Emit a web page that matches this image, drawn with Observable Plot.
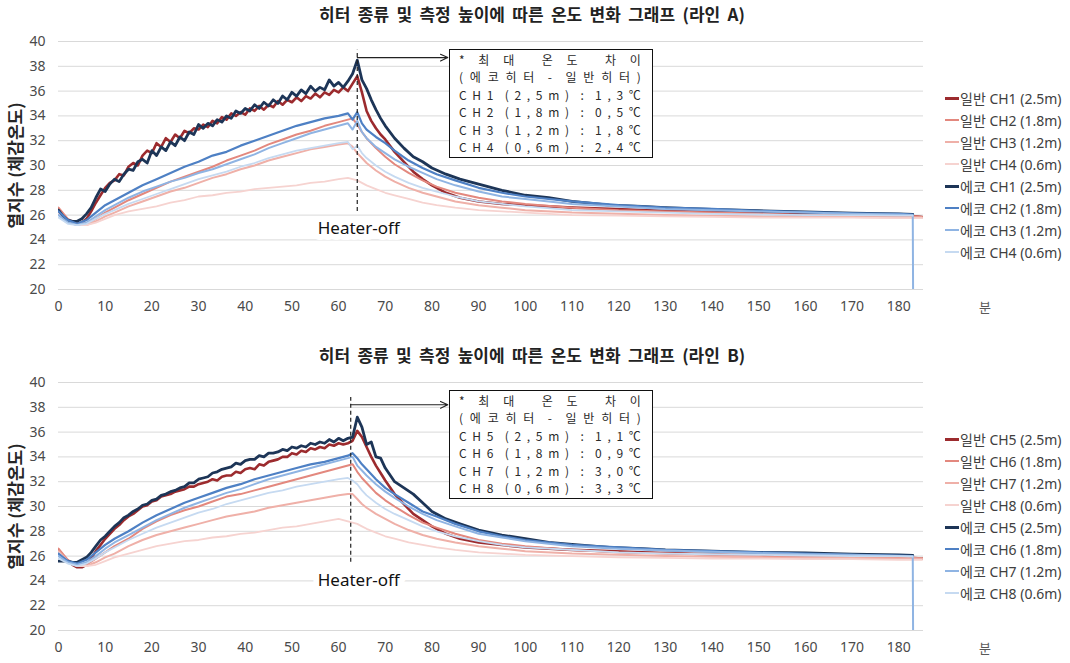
<!DOCTYPE html>
<html><head><meta charset="utf-8">
<script src="https://cdn.jsdelivr.net/npm/d3@7"></script>
<script src="https://cdn.jsdelivr.net/npm/@observablehq/plot@0.6"></script>
<style>
body{margin:0;background:#fff;font-family:"Noto Sans","Noto Sans CJK KR",sans-serif;}
#root{position:relative;width:1070px;height:663px;overflow:hidden;background:#fff;}
.panel{position:absolute;left:0;width:1070px;height:341px;}
.title{position:absolute;top:0;left:0;width:1064px;text-align:center;font-family:"Noto Sans CJK KR",sans-serif;font-weight:bold;font-size:17px;line-height:28px;color:#222;word-spacing:3.5px;}
.plotwrap{position:absolute;top:28px;left:0;}
.legend{position:absolute;left:945px;top:87px;font-size:14px;color:#404040;}
.legend .item{height:22px;display:flex;align-items:center;white-space:nowrap;}
.legend .sw{width:14px;margin-right:1px;}
.box{position:absolute;left:449px;top:49px;width:204px;height:109px;border:1.5px solid #111;background:#fff;box-sizing:border-box;padding:1px 11px 0 9px;font-family:"Noto Sans CJK KR",sans-serif;font-size:12px;color:#2a2a2a;}
.box .ln{display:flex;justify-content:space-between;height:17.4px;}
.box .ln span{display:inline-block;height:17.4px;line-height:17.4px;transform-origin:center;}
.unit{position:absolute;left:979px;top:298px;font-size:13px;line-height:18px;color:#595959;font-family:"Noto Sans CJK KR",sans-serif;}
</style></head>
<body><div id="root"></div>
<script>
// ---------- axes ----------
const xTicks = [0,10,20,30,40,50,60,70,80,90,100,110,120,130,140,150,160,170,180];
const yTicks = [20,22,24,26,28,30,32,34,36,38,40];
const xUnit = "분";
const yLabel = "열지수 (체감온도)";
const titles = ["히터 종류 및 측정 높이에 따른 온도 변화 그래프 (라인 A)", "히터 종류 및 측정 높이에 따른 온도 변화 그래프 (라인 B)"];

// ---------- time (minutes) ----------
const tFine = [0,1,2,3,4,5,6,7,8,9,10,11,12,13,14,15,16,17,18,19,20,21,22,23,24,25,26,27,28,29,30,31,32,33,34,35,36,37,38,39,40,41,42,43,44,45,46,47,48,49,50,51,52,53,54,55,56,57,58,59,60,61,62,63,64,65,66,67,68,69,70,
  72,74,76,78,80,83,86,90,95,100,105,110,118,125,130,140,150,160,170,180,183,183.3,185];
const tCoarse = [0,2,4,6,8,10,12,15,18,21,24,27,30,33,36,39,42,45,48,51,54,57,60,62,63,64,65,66,68,70,72,75,78,81,85,90,95,100,110,120,130,140,150,160,170,180,183,183.3,185];

// ---------- Line A ----------
const a_il1 = [26.5,25.9,25.5,25.3,25.3,25.4,25.7,26.3,27.0,27.6, 28.2,28.6,28.8,29.3,29.2,29.9,30.2,30.0,30.8,31.2, 31.0,31.8,31.5,32.2,31.9,32.5,32.2,32.8,32.6,33.0, 32.9,33.3,33.1,33.6,33.4,33.9,33.7,34.2,34.0,34.3, 34.1,34.6,34.4,34.8,34.5,34.9,34.7,35.2,34.9,35.3, 35.1,35.5,35.2,35.6,35.4,35.8,35.5,35.9,35.7,36.1, 35.9,36.3,36.0,36.6,37.2,35.9,34.4,33.6,33.0,32.5, 32.1,
  31.1,30.3,29.5,28.9,28.4,27.8,27.4,27.1,26.9,26.8,26.7,26.6,26.5,26.4,26.35,26.25,26.15,26.05,26.0,25.9,25.9,25.9,25.85];
const a_il2 = [26.6,25.7,25.3,25.3,25.7,26.2,26.6,27.2,27.7,28.2,28.7,29.1,29.5,29.9,30.4,30.8,31.2,31.7,32.1,32.5,32.8,33.2,33.5,33.7,33.8,33.3,32.7,32.2,31.4,30.7,30.1,29.4,28.8,28.3,27.8,27.4,27.1,26.9,26.6,26.4,26.3,26.2,26.1,26.0,25.95,25.9,25.9,25.9,25.85];
const a_il3 = [26.4,25.5,25.2,25.2,25.5,25.9,26.2,26.7,27.1,27.5,27.9,28.2,28.6,29.0,29.3,29.7,30.0,30.4,30.7,31.0,31.3,31.5,31.7,31.8,31.5,31.0,30.6,30.2,29.6,29.1,28.7,28.2,27.8,27.5,27.1,26.8,26.6,26.4,26.2,26.1,26.0,25.95,25.9,25.85,25.85,25.8,25.8,25.8,25.8];
const a_il4 = [26.2,25.4,25.2,25.2,25.4,25.7,26.0,26.3,26.5,26.7,27.0,27.2,27.5,27.6,27.8,27.9,28.1,28.2,28.3,28.4,28.6,28.7,28.9,29.0,28.9,28.8,28.6,28.4,28.1,27.8,27.6,27.3,27.0,26.8,26.6,26.4,26.3,26.2,26.0,25.95,25.9,25.85,25.8,25.8,25.8,25.75,25.75,25.75,25.75];
const a_eco1 = [26.4,25.9,25.6,25.5,25.5,25.7,26.1,26.6,27.4,28.1, 27.9,28.5,28.9,28.7,29.3,29.7,29.6,30.3,30.5,30.2, 31.2,30.8,31.5,31.2,31.9,31.6,32.3,32.0,32.7,32.5, 33.3,33.0,33.4,33.2,33.7,33.5,34.0,33.8,34.4,34.2, 34.6,34.4,34.9,34.6,35.1,34.8,35.3,35.0,35.6,35.3, 35.9,35.6,36.1,35.8,36.4,36.0,36.3,36.1,36.9,36.4, 36.7,36.3,36.8,37.4,38.5,36.9,36.2,35.3,34.5,33.8, 33.2,
  32.2,31.4,30.7,30.3,29.8,29.3,28.9,28.5,28.0,27.6,27.4,27.1,26.8,26.7,26.6,26.45,26.35,26.25,26.15,26.1,26.05,null,null];
const a_eco2 = [26.3,25.6,25.3,25.6,26.2,26.8,27.2,27.8,28.4,28.9,29.4,29.9,30.3,30.8,31.1,31.6,32.0,32.4,32.8,33.2,33.5,33.8,34.0,34.2,33.7,34.3,33.4,32.9,32.3,31.8,31.2,30.4,29.8,29.3,28.8,28.2,27.8,27.5,27.1,26.8,26.6,26.5,26.35,26.25,26.15,26.1,26.05,null,null];
const a_eco3 = [26.0,25.4,25.2,25.4,25.9,26.4,26.8,27.4,27.9,28.3,28.7,29.0,29.4,29.7,30.1,30.5,30.9,31.4,31.8,32.2,32.6,32.9,33.2,33.4,32.9,33.6,32.7,32.2,31.5,31.0,30.5,29.9,29.4,28.9,28.4,27.9,27.5,27.3,26.9,26.7,26.5,26.4,26.3,26.2,26.1,26.05,26.0,0,null];
const a_eco4 = [25.8,25.3,25.2,25.3,25.7,26.1,26.4,26.9,27.3,27.7,28.1,28.5,28.9,29.2,29.5,29.9,30.2,30.6,30.9,31.2,31.4,31.6,31.8,31.9,31.3,31.6,31.0,30.6,30.0,29.5,29.1,28.6,28.2,27.9,27.5,27.1,26.9,26.7,26.4,26.3,26.2,26.1,26.05,26.0,26.0,25.95,25.95,null,null];

// ---------- Line B ----------
const b_il5 = [26.5,26.0,25.6,25.3,25.1,25.1,25.3,25.8,26.4,26.9, 27.4,27.8,28.2,28.5,28.9,29.2,29.4,29.7,30.0,30.1, 30.4,30.5,30.8,30.9,31.0,31.2,31.3,31.4,31.6,31.6, 31.8,31.9,32.0,32.2,32.1,32.4,32.5,32.5,32.8,32.7, 33.0,33.1,33.0,33.4,33.3,33.6,33.7,33.8,34.0,34.0, 34.3,34.2,34.5,34.4,34.7,34.6,34.8,34.7,35.0,34.9, 35.1,35.0,35.1,35.3,36.1,35.6,34.8,34.0,33.3,32.7, 32.1,
  31.0,30.2,29.4,28.9,28.4,27.8,27.4,27.1,26.9,26.7,26.6,26.5,26.4,26.3,26.25,26.15,26.05,26.0,25.95,25.9,25.85,25.85,25.8];
const b_il6 = [26.6,25.7,25.2,25.3,25.8,26.3,26.8,27.4,28.2,28.8,29.3,29.7,30.0,30.4,30.8,31.0,31.3,31.6,31.9,32.2,32.5,32.8,33.1,33.3,33.4,32.8,32.3,31.9,31.1,30.5,30.0,29.3,28.7,28.3,27.8,27.3,27.0,26.8,26.5,26.3,26.2,26.1,26.0,25.95,25.9,25.85,25.85,25.85,25.8];
const b_il7 = [26.4,25.6,25.2,25.2,25.5,25.9,26.2,26.8,27.3,27.7,28.0,28.3,28.6,28.9,29.2,29.4,29.6,29.9,30.1,30.3,30.5,30.7,30.9,31.0,31.0,30.6,30.2,29.9,29.4,29.0,28.6,28.1,27.7,27.4,27.1,26.8,26.6,26.4,26.2,26.1,26.0,25.95,25.9,25.85,25.85,25.8,25.8,25.8,25.8];
const b_il8 = [26.3,25.5,25.2,25.2,25.3,25.6,25.9,26.2,26.5,26.8,27.0,27.2,27.3,27.5,27.6,27.8,27.9,28.1,28.3,28.4,28.6,28.8,29.0,28.8,28.7,28.6,28.4,28.2,27.9,27.6,27.4,27.1,26.9,26.7,26.5,26.3,26.2,26.1,26.0,25.9,25.85,25.8,25.8,25.75,25.75,25.7,25.7,25.7,25.7];
const b_eco5 = [25.6,25.6,25.6,25.5,25.5,25.7,25.9,26.3,26.8,27.3, 27.6,28.0,28.4,28.7,29.1,29.3,29.6,29.8,30.1,30.2, 30.5,30.6,30.9,31.0,31.2,31.3,31.5,31.6,31.9,31.9, 32.2,32.3,32.4,32.7,32.8,33.0,33.1,33.2,33.5,33.4, 33.7,33.8,33.8,34.1,34.0,34.3,34.3,34.4,34.6,34.5, 34.8,34.7,34.9,34.8,35.1,35.0,35.2,35.1,35.4,35.2, 35.5,35.3,35.5,35.6,37.2,36.4,35.0,35.2,34.0,33.9, 33.1,
  32.0,31.5,31.0,30.3,29.6,29.0,28.6,28.1,27.7,27.4,27.1,26.95,26.7,26.6,26.5,26.4,26.3,26.25,26.15,26.1,26.05,null,null];
const b_eco6 = [26.2,25.6,25.4,25.7,26.3,26.9,27.4,28.0,28.7,29.3,29.8,30.3,30.7,31.1,31.5,31.8,32.2,32.5,32.8,33.1,33.4,33.6,33.9,34.1,34.3,33.9,33.4,33.0,32.2,31.5,31.0,30.3,29.6,29.2,28.6,28.0,27.6,27.3,26.9,26.7,26.5,26.4,26.3,26.2,26.1,26.05,26.0,null,null];
const b_eco7 = [26.0,25.5,25.3,25.5,26.0,26.6,27.1,27.7,28.3,28.9,29.4,29.9,30.3,30.7,31.1,31.4,31.8,32.2,32.5,32.8,33.1,33.4,33.7,33.9,34.0,33.3,32.9,32.5,31.8,31.2,30.7,30.0,29.4,28.9,28.4,27.8,27.5,27.2,26.8,26.6,26.45,26.35,26.25,26.15,26.1,26.0,26.0,0,null];
const b_eco8 = [25.8,25.4,25.2,25.4,25.8,26.3,26.7,27.3,27.8,28.3,28.7,29.1,29.5,29.8,30.2,30.5,30.8,31.1,31.3,31.6,31.8,32.0,32.2,32.3,32.1,31.8,31.3,30.9,30.3,29.8,29.4,28.9,28.4,28.0,27.6,27.2,26.9,26.7,26.5,26.3,26.2,26.15,26.1,26.05,26.0,26.0,25.95,null,null];

// ---------- series names / colours ----------
const namesA = ["일반 CH1 (2.5m)","일반 CH2 (1.8m)","일반 CH3 (1.2m)","일반 CH4 (0.6m)","에코 CH1 (2.5m)","에코 CH2 (1.8m)","에코 CH3 (1.2m)","에코 CH4 (0.6m)"];
const namesB = ["일반 CH5 (2.5m)","일반 CH6 (1.8m)","일반 CH7 (1.2m)","일반 CH8 (0.6m)","에코 CH5 (2.5m)","에코 CH6 (1.8m)","에코 CH7 (1.2m)","에코 CH8 (0.6m)"];
const seriesColors = ["#9c2b2e","#e3887e","#efb0a8","#f6d3d0","#1d3557","#4e80c4","#8fb4e3","#c6daf1"];
const seriesWidths = [2.6,2,2,1.8,2.8,2.2,2,1.8];

// ---------- annotations ----------
const heaterOff = [64, 62.6];
const dashTop = [39.3, 38.8], dashBottom = [26.3, 25.5];
const arrowY = [38.7, 38.2], arrowEnd = 83.4;
const offLabelX = [64.3, 64.3], offLabelY = [24.9, 24.0];
const offLabel = "Heater-off";
const boxLinesA = ["*최대 온도 차이","(에코히터 - 일반히터)","CH1 (2,5m) : 1,3℃","CH2 (1,8m) : 0,5℃","CH3 (1,2m) : 1,8℃","CH4 (0,6m) : 2,4℃"];
const boxLinesB = ["*최대 온도 차이","(에코히터 - 일반히터)","CH5 (2,5m) : 1,1℃","CH6 (1,8m) : 0,9℃","CH7 (1,2m) : 3,0℃","CH8 (0,6m) : 3,3℃"];

const panels = [
  {title: titles[0], names: namesA, values: [a_il1,a_il2,a_il3,a_il4,a_eco1,a_eco2,a_eco3,a_eco4], box: boxLinesA, top: 0, i: 0},
  {title: titles[1], names: namesB, values: [b_il5,b_il6,b_il7,b_il8,b_eco5,b_eco6,b_eco7,b_eco8], box: boxLinesB, top: 341, i: 1}
];
const fineIdx = new Set([0,4]);

const root = document.getElementById("root");
const font = "'Noto Sans','Noto Sans CJK KR',sans-serif";

for (const p of panels) {
  const panel = document.createElement("div");
  panel.className = "panel"; panel.style.top = p.top + "px";
  root.appendChild(panel);

  const title = document.createElement("div");
  title.className = "title"; title.textContent = p.title;
  panel.appendChild(title);

  const lines = p.values.map((vals, k) => {
    const ts = fineIdx.has(k) ? tFine : tCoarse;
    const rows = ts.map((t, j) => ({t, v: vals[j]}));
    return Plot.line(rows, {x: "t", y: "v", stroke: seriesColors[k], strokeWidth: seriesWidths[k], clip: true, defined: d => d.v != null});
  });

  const svg = Plot.plot({
    width: 1070, height: 313,
    marginLeft: 58, marginRight: 147, marginTop: 13, marginBottom: 52,
    x: {domain: [0, 185.3]},
    y: {domain: [20, 40]},
    style: {fontFamily: font, fontSize: "14px", color: "#4a4a4a", background: "transparent"},
    marks: [
      Plot.gridY(yTicks, {stroke: "#d9d9d9", strokeOpacity: 1}),
      Plot.axisX(xTicks, {tickSize: 0, tickPadding: 12, label: null, fontSize: 14}),
      Plot.axisY(yTicks, {tickSize: 0, tickPadding: 13, label: null, fontSize: 14}),
      Plot.text([yLabel], {text: d => d, frameAnchor: "left", dx: -42, rotate: -90, textAnchor: "middle", fontWeight: "bold", fontSize: 17, fill: "#262626", fontFamily: "'Noto Sans CJK KR',sans-serif"}),
      ...lines,
      Plot.ruleX([{x: heaterOff[p.i], y1: dashBottom[p.i], y2: dashTop[p.i]}], {x: "x", y1: "y1", y2: "y2", stroke: "#222", strokeWidth: 1.2, strokeDasharray: "4,3"}),
      Plot.arrow([{x1: heaterOff[p.i], y: arrowY[p.i], x2: arrowEnd}], {x1: "x1", y1: "y", x2: "x2", y2: "y", stroke: "#222", strokeWidth: 1.1, headLength: 11, headAngle: 50}),
      Plot.text([{x: offLabelX[p.i], y: offLabelY[p.i], s: offLabel}], {x: "x", y: "y", text: "s", fontSize: 17, fill: "#111", stroke: "white", strokeWidth: 12})
    ]
  });
  const wrap = document.createElement("div");
  wrap.className = "plotwrap"; wrap.appendChild(svg);
  panel.appendChild(wrap);

  // annotation box
  const box = document.createElement("div");
  box.className = "box";
  for (const line of p.box) {
    const ln = document.createElement("div"); ln.className = "ln";
    for (const ch of line) {
      const s = document.createElement("span");
      s.textContent = ch === " " ? "" : ch;
      ln.appendChild(s);
    }
    box.appendChild(ln);
  }
  panel.appendChild(box);

  // legend
  const legend = document.createElement("div"); legend.className = "legend";
  p.names.forEach((n, k) => {
    const it = document.createElement("div"); it.className = "item";
    const sw = document.createElement("div"); sw.className = "sw";
    sw.style.height = (k % 4 === 0 ? 3 : 2) + "px"; sw.style.background = seriesColors[k];
    const tx = document.createElement("span"); tx.textContent = n;
    it.appendChild(sw); it.appendChild(tx); legend.appendChild(it);
  });
  panel.appendChild(legend);

  const unit = document.createElement("div"); unit.className = "unit"; unit.textContent = xUnit;
  panel.appendChild(unit);
}
</script>
</body></html>
